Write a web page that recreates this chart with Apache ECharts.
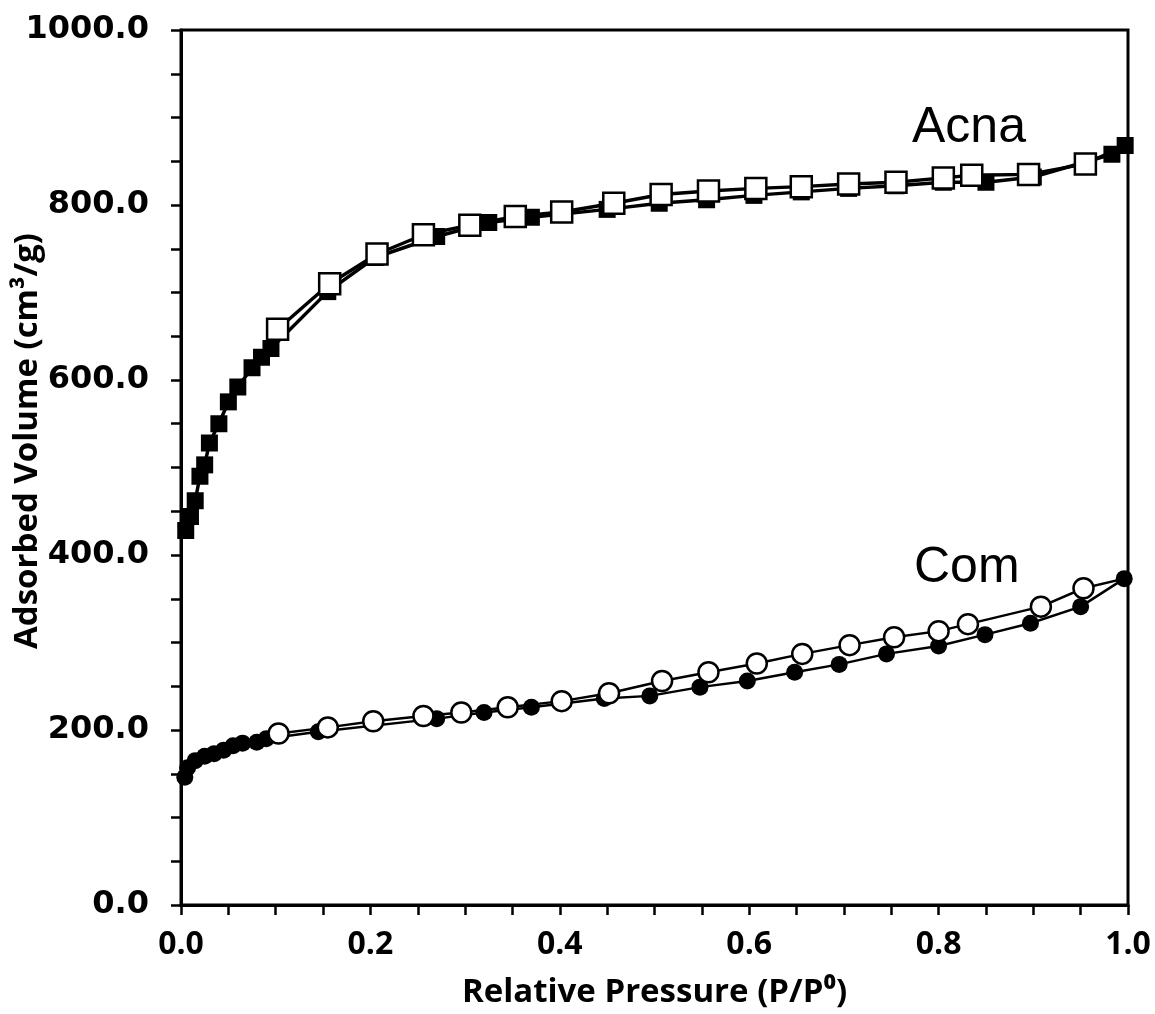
<!DOCTYPE html>
<html>
<head>
<meta charset="utf-8">
<script src="https://cdn.jsdelivr.net/npm/echarts@6/dist/echarts.min.js"></script>
<style>html,body{margin:0;padding:0;background:#fff;}#c{width:1155px;height:1014px;}</style>
</head>
<body>
<div id="c"></div>
<script>
// Acna adsorption (filled squares)
const acnaAdsX = [0.005, 0.01, 0.015, 0.02, 0.025, 0.03, 0.04, 0.05, 0.06, 0.075, 0.085, 0.095, 0.155, 0.205, 0.27, 0.325, 0.37, 0.45, 0.505, 0.555, 0.605, 0.655, 0.705, 0.755, 0.805, 0.85, 0.90, 0.983, 0.997];
const acnaAdsY = [428, 444, 462, 490, 503, 528, 550, 575, 592, 614, 626, 636, 701, 740, 764, 780, 786, 795, 802, 806, 811, 815, 819, 822, 826, 826, 832, 858, 868];
// Acna desorption (open squares)
const acnaDesX = [0.997, 0.955, 0.895, 0.835, 0.805, 0.755, 0.705, 0.655, 0.607, 0.557, 0.507, 0.457, 0.402, 0.353, 0.305, 0.256, 0.207, 0.157, 0.102];
const acnaDesY = [868, 847, 835, 834, 831, 826, 824, 821, 819, 816, 812, 802, 792, 787, 777, 766, 744, 710, 658];
// Com adsorption (filled circles)
const comAdsX = [0.004, 0.007, 0.015, 0.025, 0.035, 0.045, 0.055, 0.065, 0.08, 0.09, 0.145, 0.27, 0.32, 0.37, 0.447, 0.495, 0.548, 0.598, 0.648, 0.695, 0.745, 0.80, 0.849, 0.897, 0.95, 0.996];
const comAdsY = [146, 157, 165, 170, 173, 177, 182, 185, 186, 190, 198, 213, 220, 226, 236, 239, 249, 256, 266, 275, 287, 296, 309, 322, 341, 373];
// Com desorption (open circles)
const comDesX = [0.996, 0.953, 0.908, 0.831, 0.80, 0.753, 0.706, 0.656, 0.608, 0.557, 0.508, 0.452, 0.402, 0.345, 0.296, 0.256, 0.203, 0.155, 0.103];
const comDesY = [373, 362, 341, 321, 313, 306, 297, 287, 276, 266, 256, 242, 233, 226, 220, 216, 210, 203, 196];

const seriesLabels = ['Acna', 'Com'];
const xTitle = 'Relative Pressure (P/P\u2070)';
const yTitle = 'Adsorbed Volume (cm\u00B3/g)';

function pairs(xs, ys, hideFirst) {
  return xs.map((x, i) => {
    const v = [x, ys[i]];
    if (hideFirst && i === 0) return { value: v, symbol: 'none' };
    return v;
  });
}

const chart = echarts.init(document.getElementById('c'), null, { renderer: 'canvas' });
const axisLineStyle = { color: '#000', width: 3 };
chart.setOption({
  animation: false,
  backgroundColor: '#fff',
  grid: { left: 181, right: 27, top: 30, bottom: 108, show: true, borderColor: '#000', borderWidth: 3, backgroundColor: 'transparent' },
  xAxis: {
    type: 'value', min: 0, max: 1, interval: 0.2,
    axisLine: { show: true, onZero: false, lineStyle: axisLineStyle },
    axisTick: { show: true, inside: false, length: 10, lineStyle: { color: '#000', width: 2.5 } },
    minorTick: { show: true, splitNumber: 4, length: 10, lineStyle: { color: '#000', width: 2.5 } },
    splitLine: { show: false },
    axisLabel: { formatter: v => v.toFixed(1), color: '#000', fontFamily: 'Open Sans', fontWeight: 'bold', fontSize: 32, margin: 24 },
    name: xTitle, nameLocation: 'middle', nameGap: 71,
    nameTextStyle: { color: '#000', fontFamily: 'Open Sans', fontWeight: 'bold', fontSize: 33 }
  },
  yAxis: {
    type: 'value', min: 0, max: 1000, interval: 200,
    axisLine: { show: true, onZero: false, lineStyle: axisLineStyle },
    axisTick: { show: true, inside: false, length: 10, lineStyle: { color: '#000', width: 2.5 } },
    minorTick: { show: true, splitNumber: 4, length: 10, lineStyle: { color: '#000', width: 2.5 } },
    splitLine: { show: false },
    axisLabel: { formatter: v => v.toFixed(1), color: '#000', fontFamily: 'DejaVu Sans', fontWeight: 'bold', fontSize: 32, margin: 32 }
  },
  series: [
    {
      name: 'Acna ads', type: 'line', data: pairs(acnaAdsX, acnaAdsY, false),
      symbol: 'rect', symbolSize: 17, showAllSymbol: true,
      itemStyle: { color: '#000', borderColor: '#000', borderWidth: 0 },
      lineStyle: { color: '#000', width: 3.5 }, z: 2
    },
    {
      name: 'Acna des', type: 'line', data: pairs(acnaDesX, acnaDesY, true),
      symbol: 'rect', symbolSize: 21, showAllSymbol: true,
      itemStyle: { color: '#fff', borderColor: '#000', borderWidth: 2.5 },
      lineStyle: { color: '#000', width: 3.5 }, z: 3
    },
    {
      name: 'Com ads', type: 'line', data: pairs(comAdsX, comAdsY, false),
      symbol: 'circle', symbolSize: 17, showAllSymbol: true,
      itemStyle: { color: '#000', borderColor: '#000', borderWidth: 0 },
      lineStyle: { color: '#000', width: 2.5 }, z: 2
    },
    {
      name: 'Com des', type: 'line', data: pairs(comDesX, comDesY, true),
      symbol: 'circle', symbolSize: 20, showAllSymbol: true,
      itemStyle: { color: '#fff', borderColor: '#000', borderWidth: 2.5 },
      lineStyle: { color: '#000', width: 2.5 }, z: 3
    }
  ],
  graphic: [
    { type: 'text', x: 28, y: 441, rotation: Math.PI / 2, style: { text: yTitle, fill: '#000', font: 'bold 33px "Open Sans", sans-serif', align: 'center', verticalAlign: 'middle' } },
    { type: 'text', left: 912, top: 103, style: { text: seriesLabels[0], fill: '#000', font: '50px "Liberation Sans", Arial, sans-serif' } },
    { type: 'text', left: 914, top: 543, style: { text: seriesLabels[1], fill: '#000', font: '50px "Liberation Sans", Arial, sans-serif' } }
  ]
});
</script>
</body>
</html>
